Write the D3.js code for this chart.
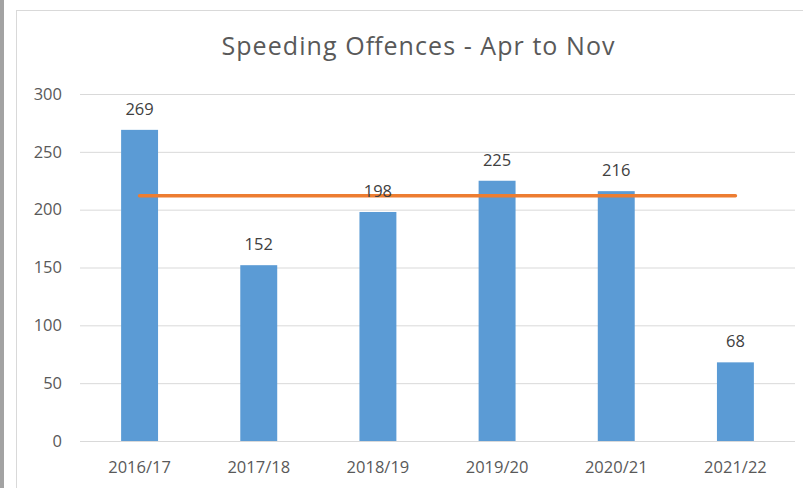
<!DOCTYPE html>
<html>
<head>
<meta charset="utf-8">
<script src="https://cdn.jsdelivr.net/npm/d3@7"></script>
<style>
  body { margin: 0; background: #fff; }
  text { font-family: "Open Sans", sans-serif; }
</style>
</head>
<body>
<div id="chart-area"></div>
<script>
const years = ["2016/17", "2017/18", "2018/19", "2019/20", "2020/21", "2021/22"];
const offences = [269, 152, 198, 225, 216, 68];
const average = [212, 212, 212, 212, 212, 212];
const yTicks = [0, 50, 100, 150, 200, 250, 300];

const width = 803, height = 488;
const plot = { left: 80, right: 795, top: 94, bottom: 441 };

const svg = d3.select('#chart-area').append('svg')
    .attr('width', width)
    .attr('height', height);

// frame: dark strip on the left, light chart border
svg.append('rect').attr('x', 0).attr('y', 0).attr('width', 4).attr('height', height).attr('fill', '#a3a3a3');
svg.append('rect').attr('x', 16.5).attr('y', 10.5).attr('width', 800).attr('height', 500)
    .attr('fill', '#fff').attr('stroke', '#d9d9d9');

const x = d3.scaleBand().domain(years).range([plot.left, plot.right])
    .paddingInner(0.69).paddingOuter(0.345);
const y = d3.scaleLinear().domain([0, 300]).range([plot.bottom, plot.top]);

// gridlines + y labels
const yAxis = d3.axisLeft(y).tickValues(yTicks).tickSize(-(plot.right - plot.left)).tickPadding(18);
const gy = svg.append('g').attr('transform', `translate(${plot.left},0)`).call(yAxis);
gy.select('.domain').remove();
gy.selectAll('.tick line').attr('stroke', '#d9d9d9');
gy.selectAll('.tick text').attr('fill', '#595959').style('font-size', '16.5px');

// x labels
const xAxis = d3.axisBottom(x).tickSize(0).tickPadding(20);
const gx = svg.append('g').attr('transform', `translate(0,${plot.bottom})`).call(xAxis);
gx.select('.domain').remove();
gx.selectAll('.tick text').attr('fill', '#595959').style('font-size', '16.5px');

// bars
svg.selectAll('.bar')
    .data(years)
    .enter().append('rect')
    .attr('class', 'bar')
    .attr('x', d => x(d))
    .attr('y', (d, i) => y(offences[i]))
    .attr('width', x.bandwidth())
    .attr('height', (d, i) => y(0) - y(offences[i]))
    .attr('fill', '#5b9bd5');

// average line
const line = d3.line()
    .x(d => x(d) + x.bandwidth() / 2)
    .y((d, i) => y(average[i]));
svg.append('path')
    .datum(years)
    .attr('d', line)
    .attr('fill', 'none')
    .attr('stroke', '#ed7d31')
    .attr('stroke-width', 3.5)
    .attr('stroke-linecap', 'round');

// data labels
svg.selectAll('.value')
    .data(years)
    .enter().append('text')
    .attr('class', 'value')
    .attr('x', d => x(d) + x.bandwidth() / 2)
    .attr('y', (d, i) => y(offences[i]) - 15)
    .attr('text-anchor', 'middle')
    .attr('fill', '#404040')
    .style('font-size', '16.5px')
    .text((d, i) => offences[i]);

// title
svg.append('text')
    .attr('x', 418)
    .attr('y', 55)
    .attr('text-anchor', 'middle')
    .attr('fill', '#595959')
    .attr('textLength', 393)
    .attr('lengthAdjust', 'spacing')
    .style('font-size', '25px')
    .text('Speeding Offences - Apr to Nov');
</script>
</body>
</html>
